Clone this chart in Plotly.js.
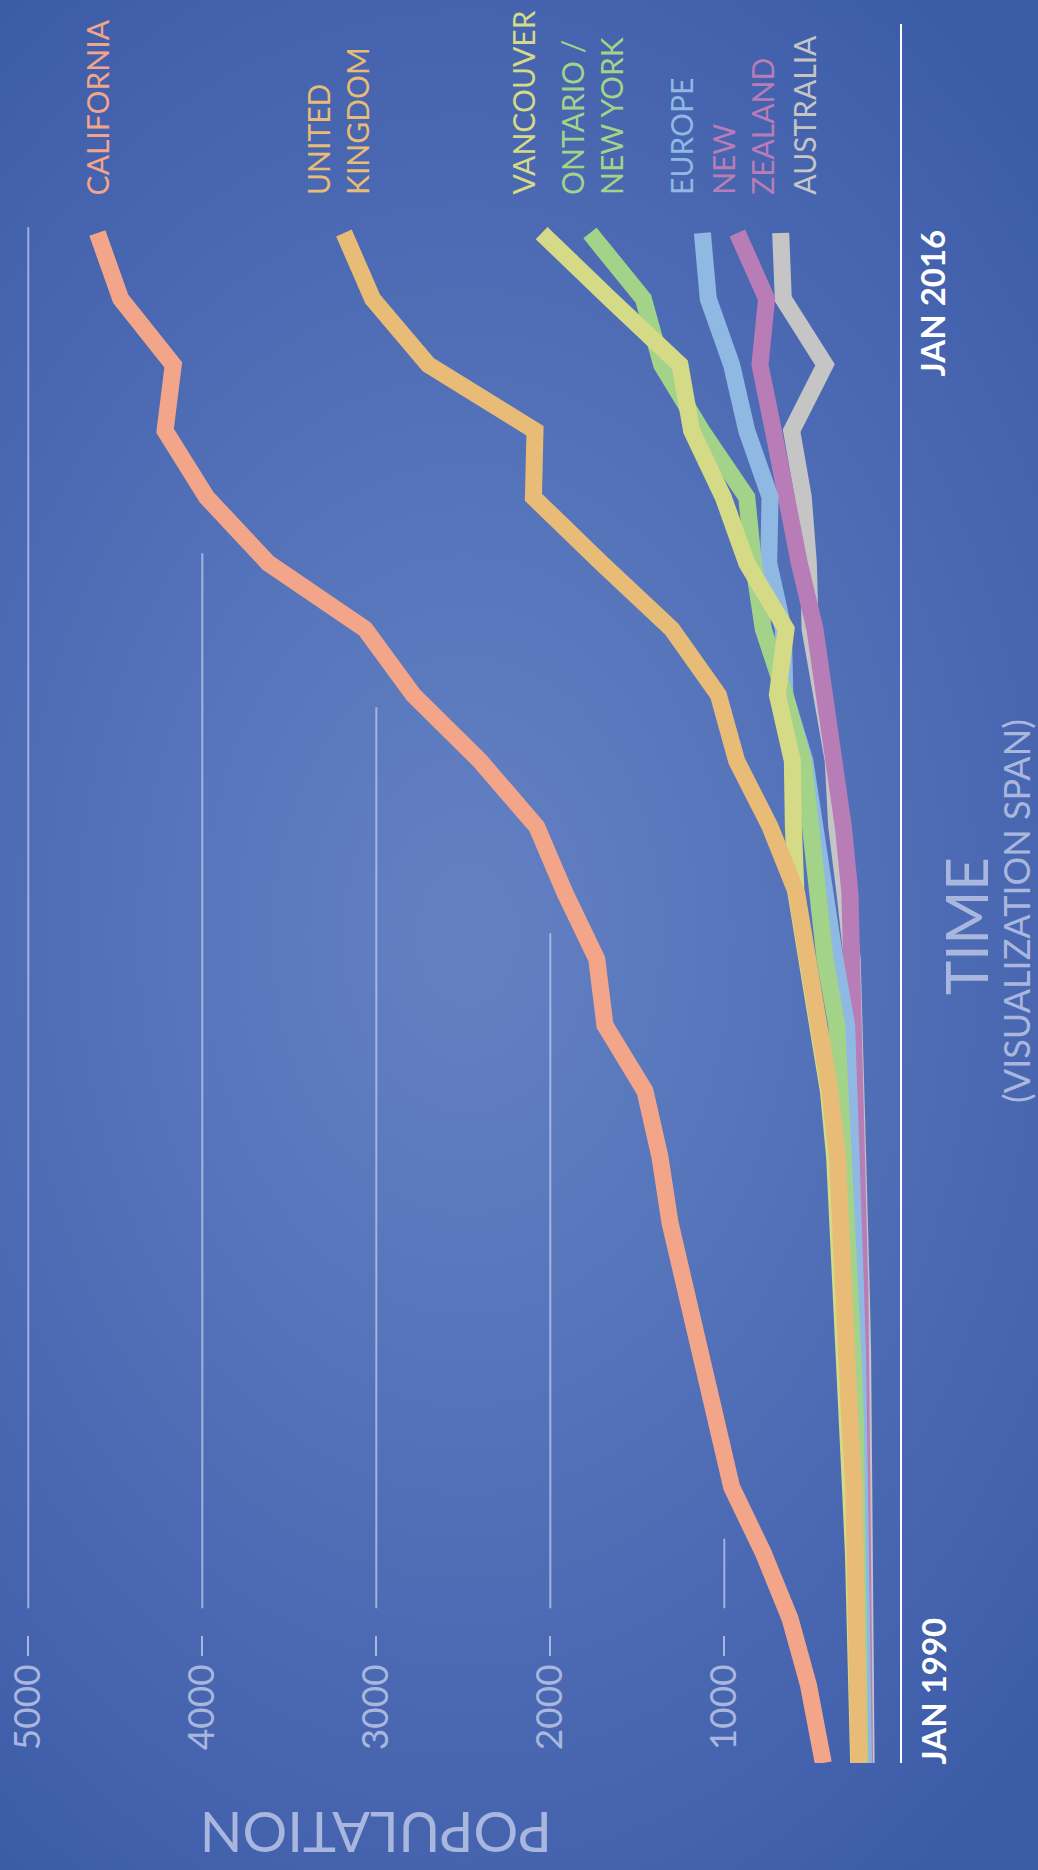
<!DOCTYPE html>
<html>
<head>
<meta charset="utf-8">
<script src="https://cdn.plot.ly/plotly-3.0.1.min.js"></script>
<style>
  html, body { margin:0; padding:0; }
  body {
    width:1038px; height:1870px; overflow:hidden;
    background: radial-gradient(ellipse 78% 62% at 45% 50%, #6381c2 0%, #5775bb 35%, #4967b1 70%, #3c5ba7 100%);
  }
  #chart { width:1038px; height:1870px; }
</style>
</head>
<body>
<div id="chart"></div>
<script>
// ---- time points (decimal years, Jan 1990 .. Jan 2016) ----
const years = [1990, 1991.32, 1992.45, 1993.57, 1994.69, 1995.81, 1996.93, 1998.05,
  1999.18, 2000.30, 2001.42, 2002.54, 2003.66, 2004.78, 2005.91, 2007.03,
  2008.15, 2009.27, 2010.39, 2011.51, 2012.64, 2013.76, 2014.88, 2016];

// ---- population series ----
const california = [431, 516, 622, 776, 958, 1044, 1121, 1232, 1312, 1370, 1456, 1686,
  1733, 1915, 2078, 2404, 2787, 3065, 3621, 3975, 4214, 4167, 4469, 4603];
const unitedKingdom = [226, 228, 232, 245, 255, 278, 293, 306, 325, 350, 393, 450,
  507, 584, 737, 929, 1034, 1302, 1706, 2097, 2088, 2701, 3021, 3186];
const vancouver = [228, 232, 238, 258, 275, 291, 308, 328, 347, 366, 402, 460,
  515, 588, 603, 609, 695, 645, 871, 1006, 1188, 1255, 1657, 2050];
const ontarioNewYork = [221, 223, 227, 233, 240, 246, 261, 277, 292, 303, 316, 354,
  421, 469, 517, 546, 651, 776, 833, 871, 1130, 1360, 1465, 1772];
const europe = [200, 202, 205, 210, 215, 220, 234, 246, 259, 273, 278, 297,
  364, 421, 469, 537, 652, 661, 745, 737, 871, 958, 1092, 1126];
const newZealand = [194, 195, 195, 195, 196, 196, 211, 221, 231, 238, 245, 249,
  274, 278, 316, 374, 440, 479, 569, 632, 718, 795, 757, 925];
const australia = [185, 185, 186, 188, 190, 193, 205, 213, 222, 228, 235, 240,
  265, 306, 354, 374, 450, 507, 517, 546, 613, 421, 661, 676];

// ---- axis ticks ----
const tickVals = [5000, 4000, 3000, 2000, 1000];
const tickText = ['5000', '4000', '3000', '2000', '1000'];
const timeLabels = ['JAN 1990', 'JAN 2016'];

// ---- series meta (drawing order: back to front) ----
const seriesNames = ['AUSTRALIA', 'NEW<br>ZEALAND', 'EUROPE', 'ONTARIO /<br>NEW YORK', 'VANCOUVER', 'UNITED<br>KINGDOM', 'CALIFORNIA'];
const seriesData = [australia, newZealand, europe, ontarioNewYork, vancouver, unitedKingdom, california];
const seriesColors = ['#c6c5c6', '#b87cb6', '#8fb9e2', '#a3d389', '#d4da86', '#e8bb76', '#f3a589'];
const labelShift = [23, 5, -22, 1, -19, -7, 0];

const FONT = 'Lato, "Noto Sans", "Open Sans", sans-serif';
const PALE = '#a9b6de';

const traces = seriesData.map((vals, i) => ({
  type: 'scatter', mode: 'lines',
  x: vals, y: years,
  line: { color: seriesColors[i], width: 17 },
  hoverinfo: 'skip', showlegend: false
}));

// layout geometry
const H = 1870, W = 1038;
const mT = 204, mB = 107, mL = 10, mR = 137;
const plotH = H - mT - mB;       // 1559
const plotW = W - mL - mR;       // 891
const pyPaper = (px) => (H - mB - px) / plotH;
const pxPaper = (px) => (px - mL) / plotW;

// gridline tops (years) for each tick value
const gridTopYears = [2016.10, 2010.56, 2007.94, 2004.10, 1993.81];
const gridBottomYear = 1992.63;

const shapes = [];
tickVals.forEach((v, i) => {
  shapes.push({ type:'line', xref:'x', yref:'y', x0:v, x1:v, y0:gridBottomYear, y1:gridTopYears[i],
    line:{ color:'rgba(190,202,238,0.75)', width:2 }, layer:'below' });
});
shapes.push({ type:'line', xref:'paper', yref:'paper', x0:1, x1:1, y0:0, y1:pyPaper(24),
  line:{ color:'#ffffff', width:2 } });

const annotations = [];
seriesData.forEach((vals, i) => {
  annotations.push({
    xref:'x', yref:'y', x: vals[vals.length-1], y: years[years.length-1],
    xshift: labelShift[i], yshift: 36,
    text: seriesNames[i], showarrow:false, textangle:-90,
    xanchor:'center', yanchor:'bottom', align:'left',
    font:{ family: FONT, size: 30, color: seriesColors[i] }
  });
});
annotations.push({
  xref:'paper', yref:'y', x: pxPaper(932), y: years[0], yshift:-4,
  text:'<b>' + timeLabels[0] + '</b>', showarrow:false, textangle:-90,
  xanchor:'center', yanchor:'bottom',
  font:{ family: FONT, size: 33, color:'#ffffff' }
});
annotations.push({
  xref:'paper', yref:'y', x: pxPaper(932), y: years[years.length-1], yshift:5,
  text:'<b>' + timeLabels[1] + '</b>', showarrow:false, textangle:-90,
  xanchor:'center', yanchor:'top',
  font:{ family: FONT, size: 33, color:'#ffffff' }
});
annotations.push({
  xref:'paper', yref:'paper', x: pxPaper(965), y: pyPaper(926),
  text:'TIME', showarrow:false, textangle:-90, xanchor:'center', yanchor:'middle',
  font:{ family: FONT, size: 58, color: PALE }
});
annotations.push({
  xref:'paper', yref:'paper', x: pxPaper(1016), y: pyPaper(911),
  text:'(VISUALIZATION SPAN)', showarrow:false, textangle:-90, xanchor:'center', yanchor:'middle',
  font:{ family: FONT, size: 36, color: PALE }
});
annotations.push({
  xref:'paper', yref:'paper', x: pxPaper(376), y: pyPaper(1834),
  text:'POPULATION', showarrow:false, textangle:180, xanchor:'center', yanchor:'middle',
  font:{ family: FONT, size: 56, color: PALE }
});

const layout = {
  width: W, height: H,
  margin: { l:mL, r:mR, t:mT, b:mB, pad:0 },
  paper_bgcolor:'rgba(0,0,0,0)', plot_bgcolor:'rgba(0,0,0,0)',
  showlegend:false,
  xaxis: {
    range:[5105.2, -15.5], anchor:'free', position: pyPaper(1656),
    tickmode:'array', tickvals: tickVals, ticktext: tickText, tickangle:-90,
    ticks:'inside', ticklen:20, tickwidth:2, tickcolor: PALE,
    tickfont:{ family: FONT, size: 37, color: PALE },
    showline:false, showgrid:false, zeroline:false, fixedrange:true
  },
  yaxis: {
    range:[1990, 2016.493], visible:false, showgrid:false, zeroline:false, fixedrange:true
  },
  shapes: shapes,
  annotations: annotations
};

Plotly.newPlot('chart', traces, layout, { staticPlot:true, displayModeBar:false });
</script>
</body>
</html>
